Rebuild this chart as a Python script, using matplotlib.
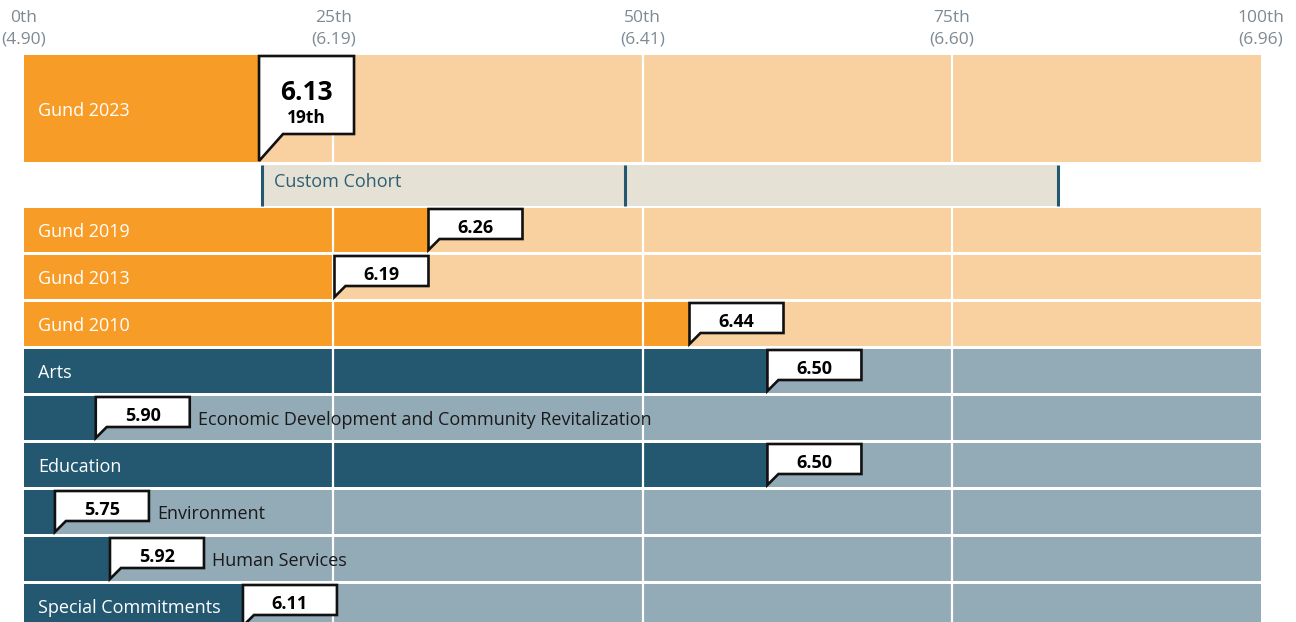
import matplotlib.pyplot as plt
from matplotlib.patches import Polygon

plt.rcParams['font.family'] = ['Open Sans', 'DejaVu Sans']

labels = ['Gund 2023', 'Gund 2019', 'Gund 2013', 'Gund 2010', 'Arts',
          'Economic Development and Community Revitalization', 'Education',
          'Environment', 'Human Services', 'Special Commitments']
scores = [6.13, 6.26, 6.19, 6.44, 6.50, 5.90, 6.50, 5.75, 5.92, 6.11]
pctl = [19.0, 32.7, 25.1, 53.8, 60.1, 5.8, 60.1, 2.5, 6.95, 17.7]
groups = ['gund', 'gund', 'gund', 'gund', 'field', 'field', 'field', 'field', 'field', 'field']
rank_2023 = '19th'

tick_pct = [0, 25, 50, 75, 100]
tick_names = ['0th', '25th', '50th', '75th', '100th']
tick_scores = [4.90, 6.19, 6.41, 6.60, 6.96]

cohort_marks = [19.2, 48.6, 83.6]

colors = {'gund': ('#f79d27', '#f9d0a0'), 'field': ('#245870', '#93aab7')}

W, H = 1296, 622
x0px, x1px = 24, 1261
fig = plt.figure(figsize=(W / 100, H / 100), dpi=100)
ax = fig.add_axes([x0px / W, 0, (x1px - x0px) / W, 1])
ax.set_xlim(0, 100)
ax.set_ylim(H, 0)
ax.axis('off')
k = 100 / (x1px - x0px)  # data units per pixel

# row geometry (pixels from top)
tops = [55] + [208 + 47 * i for i in range(len(labels) - 1)]
heights = [107] + [44] * (len(labels) - 1)


def callout(x, top, bottom, tip, tail, w):
    pts = [(x, top), (x + w * k, top), (x + w * k, bottom),
           (x + tail * k, bottom), (x, tip)]
    ax.add_patch(Polygon(pts, closed=True, facecolor='white', edgecolor='#111111',
                         lw=1.9, joinstyle='miter', zorder=4))


for i, lab in enumerate(labels):
    dark, light = colors[groups[i]]
    t, h = tops[i], heights[i]
    c = t + h / 2
    ax.barh(c, 100, height=h, left=0, color=light, zorder=1)
    ax.barh(c, pctl[i], height=h, left=0, color=dark, zorder=1)

# grid lines
ax.vlines([25, 50, 75], 55, H, color='white', lw=1.6, zorder=2)

# custom cohort row
ax.barh(185.5, cohort_marks[-1] - cohort_marks[0], height=41, left=cohort_marks[0],
        color='#e5e1d5', zorder=3)
ax.vlines(cohort_marks, 165, 206, color='#245870', lw=2.2, zorder=3)
ax.text(cohort_marks[0] + 12 * k, 180, 'Custom Cohort', color='#2e5e74', fontsize=13,
        va='center_baseline', ha='left', zorder=5)

for i, lab in enumerate(labels):
    t, h = tops[i], heights[i]
    c = t + h / 2
    p = pctl[i]
    if i == 0:
        callout(p, t + 1, 134, t + h - 1, 24, 95)
        xm = p + 47.5 * k
        ax.text(xm, 89, f'{scores[i]:.2f}', fontsize=19, fontweight='bold',
                ha='center', va='center_baseline', zorder=5)
        ax.text(xm, 116, rank_2023, fontsize=12.5, fontweight='bold',
                ha='center', va='center_baseline', zorder=5)
    else:
        callout(p, t + 1, t + 31, t + h - 2, 11, 94)
        ax.text(p + 47 * k, t + 18, f'{scores[i]:.2f}', fontsize=13, fontweight='bold',
                ha='center', va='center_baseline', zorder=5)
    if p >= 15:
        ax.text(14 * k, c, lab, color='white', fontsize=13, va='center_baseline',
                ha='left', zorder=5)
    else:
        ax.text(p + 102 * k, c, lab, color='#1a1a1a', fontsize=13, va='center_baseline',
                ha='left', zorder=5)

for tp, tn, ts in zip(tick_pct, tick_names, tick_scores):
    ax.text(tp, 18, tn, color='#7d8a94', fontsize=12.5, ha='center', va='center',
            clip_on=False)
    ax.text(tp, 39, f'({ts:.2f})', color='#7d8a94', fontsize=12.5, ha='center',
            va='center', clip_on=False)

fig.savefig('out.png', dpi=100)
